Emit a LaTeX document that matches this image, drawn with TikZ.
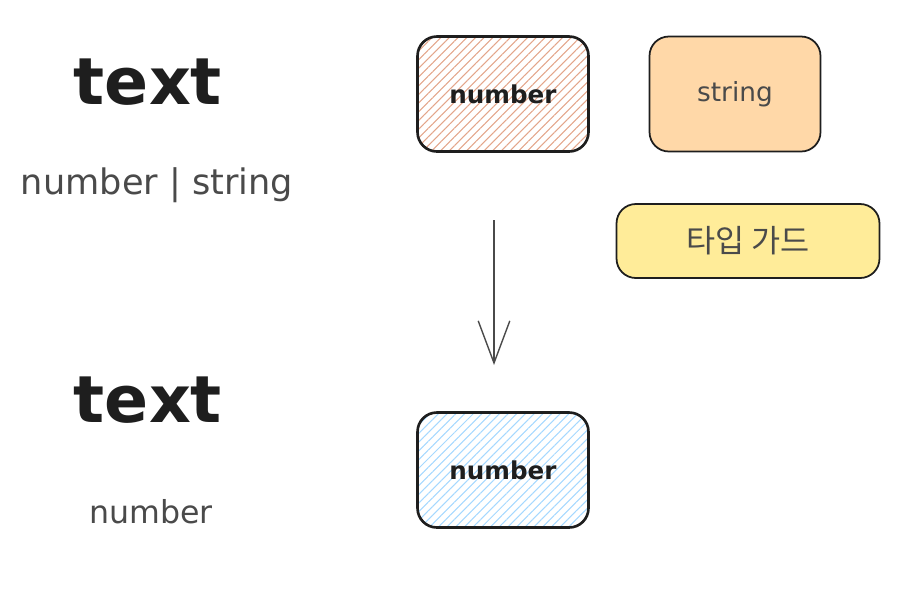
\documentclass[tikz,border=0pt]{standalone}
\usepackage{xcolor}
\usepackage{fontspec}
\setmainfont{DejaVu Sans}
\newfontfamily\krfont{Noto Sans CJK KR}
\usepackage{tikz}
\usetikzlibrary{arrows.meta,patterns.meta}

\definecolor{inkdark}{HTML}{1E1E1E}
\definecolor{inkgray}{HTML}{4A4A4A}
\definecolor{hatchorange}{HTML}{E3A58A}
\definecolor{hatchblue}{HTML}{A5D8FF}
\definecolor{fillorange}{HTML}{FFD8A8}
\definecolor{fillyellow}{HTML}{FFEC99}

\tikzset{
  typebox/.style={draw=inkdark, rounded corners=11pt, minimum width=3.42cm,
    minimum height=2.3cm, font=\fontsize{14}{16}\selectfont\bfseries, text=inkdark},
  hatchbox/.style={typebox, line width=1.5pt,
    pattern={Lines[angle=45,distance=3.5pt,line width=0.6pt]}, pattern color=#1},
  solidbox/.style={typebox, line width=1pt, fill=#1, font=\fontsize{15}{17}\selectfont, text=inkgray},
  bigword/.style={font=\fontsize{37}{40}\selectfont\bfseries, text=inkdark},
  smallword/.style={font=\fontsize{20}{24}\selectfont, text=inkgray}
}

\begin{document}
\begin{tikzpicture}[x=0.02cm, y=-0.02cm]
   \useasboundingbox (0, 0) rectangle (922, 600);
   % left column
   \node[bigword] (TextTop) at (148, 82) {text};
   \node[smallword] (TypeUnion) at (157, 185) {number | string};
   \node[bigword] (TextBottom) at (148, 400) {text};
   \node[smallword, font=\fontsize{18}{22}\selectfont] (TypeNarrow) at (151, 512) {number};
   % boxes
   \node[hatchbox=hatchorange] (NumTop) at (503, 94) {number};
   \node[solidbox=fillorange] (Str) at (735, 94) {string};
   \node[solidbox=fillyellow, minimum width=5.26cm, minimum height=1.48cm,
         font=\krfont\fontsize{18}{20}\selectfont] (Guard) at (748, 241) {타입 가드};
   \node[hatchbox=hatchblue] (NumBottom) at (503, 470) {number};
   % arrow
   \coordinate (ArrowStart) at (494, 220);
   \coordinate (ArrowEnd) at (494, 365);
   \draw[color=inkgray, line width=0.8pt, -{Straight Barb[length=24pt,width=18pt]}] (ArrowStart) -- (ArrowEnd);
\end{tikzpicture}
\end{document}
